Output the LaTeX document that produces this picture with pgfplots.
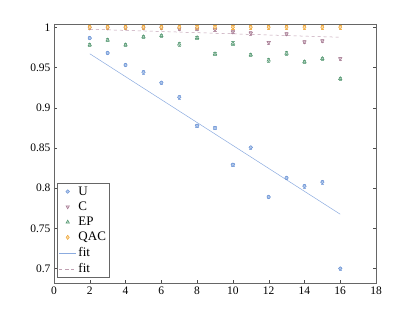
\documentclass[border=0pt]{standalone}
\usepackage{fontspec}
\setmainfont{Liberation Serif}
\usepackage{pgfplots}
\pgfplotsset{compat=1.18}
\definecolor{cU}{RGB}{110,150,215}
\definecolor{cC}{RGB}{165,120,145}
\definecolor{cE}{RGB}{80,150,110}
\definecolor{cQ}{RGB}{240,165,50}
\begin{document}
\begin{tikzpicture}
\begin{axis}[
  scale only axis, width=322pt, height=259pt,
  xmin=0, xmax=18, ymin=0.682, ymax=1.004,
  xtick={0,2,...,18}, ytick={0.7,0.75,0.8,0.85,0.9,0.95,1},
  yticklabels={0.7,0.75,0.8,0.85,0.9,0.95,1},
  /pgf/number format/assume math mode=true,
  tick label style={font=\fontsize{11.5}{13}\selectfont},
  axis line style={draw=black!60, line width=0.8pt},
  tick style={black!70},
  major tick length=3pt,
  legend style={font=\fontsize{13}{14}\selectfont, draw=black!60, inner sep=1.5pt, row sep=1.2pt, at={(0.01,0.02)}, anchor=south west},
  legend image post style={xshift=1pt},
  legend cell align=left,
  every axis plot/.append style={line width=0.5pt},
  error bars/y dir=both, error bars/y explicit,
  error bars/error bar style={line width=0.4pt},
  error bars/error mark options={rotate=90, mark size=1.7pt, line width=0.4pt},
]
\addplot[only marks, mark=*, mark size=1.8pt, color=cU, mark options={fill=cU!50, draw=cU}, error bars/error bar style={cU!70}] coordinates {
(2,0.9865) +- (0,0.002)
(3,0.968) +- (0,0.002)
(4,0.953) +- (0,0.002)
(5,0.944) +- (0,0.002)
(6,0.931) +- (0,0.002)
(7,0.913) +- (0,0.002)
(8,0.8775) +- (0,0.002)
(9,0.8746) +- (0,0.002)
(10,0.829) +- (0,0.002)
(11,0.8506) +- (0,0.002)
(12,0.789) +- (0,0.002)
(13,0.8127) +- (0,0.002)
(14,0.8024) +- (0,0.002)
(15,0.8074) +- (0,0.002)
(16,0.700) +- (0,0.002)
};
\addlegendentry{U}
\addplot[only marks, mark=triangle*, mark size=2pt, color=cC, mark options={rotate=180, fill=cC!40, draw=cC}, error bars/error bar style={cC!70}] coordinates {
(2,0.999) +- (0,0.002)
(3,0.999) +- (0,0.002)
(4,0.999) +- (0,0.002)
(5,0.999) +- (0,0.002)
(6,0.999) +- (0,0.002)
(7,0.998) +- (0,0.002)
(8,0.998) +- (0,0.002)
(9,0.997) +- (0,0.002)
(10,0.994) +- (0,0.002)
(11,0.9925) +- (0,0.002)
(12,0.981) +- (0,0.002)
(13,0.9917) +- (0,0.002)
(14,0.9817) +- (0,0.002)
(15,0.983) +- (0,0.002)
(16,0.961) +- (0,0.002)
};
\addlegendentry{C}
\addplot[only marks, mark=triangle*, mark size=2pt, color=cE, mark options={fill=cE!40, draw=cE}, error bars/error bar style={cE!70}] coordinates {
(2,0.978) +- (0,0.002)
(3,0.984) +- (0,0.002)
(4,0.978) +- (0,0.002)
(5,0.988) +- (0,0.002)
(6,0.9895) +- (0,0.002)
(7,0.979) +- (0,0.002)
(8,0.987) +- (0,0.002)
(9,0.967) +- (0,0.002)
(10,0.980) +- (0,0.002)
(11,0.9655) +- (0,0.002)
(12,0.959) +- (0,0.002)
(13,0.9676) +- (0,0.002)
(14,0.957) +- (0,0.002)
(15,0.961) +- (0,0.002)
(16,0.936) +- (0,0.002)
};
\addlegendentry{EP}
\addplot[only marks, mark=diamond*, mark size=2.1pt, color=cQ, mark options={fill=cQ!40, draw=cQ}, error bars/error bar style={cQ!80}] coordinates {
(2,1.000) +- (0,0.002)
(3,1.000) +- (0,0.002)
(4,1.000) +- (0,0.002)
(5,1.000) +- (0,0.002)
(6,1.000) +- (0,0.002)
(7,1.000) +- (0,0.002)
(8,1.000) +- (0,0.002)
(9,1.000) +- (0,0.002)
(10,1.000) +- (0,0.002)
(11,1.000) +- (0,0.002)
(12,1.000) +- (0,0.002)
(13,1.000) +- (0,0.002)
(14,1.000) +- (0,0.002)
(15,1.000) +- (0,0.002)
(16,1.000) +- (0,0.002)
};
\addlegendentry{QAC}
\addplot[no marks, color=cU!80, line width=0.5pt, error bars/y dir=none] coordinates {(2,0.967) (16,0.7675)};
\addlegendentry{fit}
\addplot[no marks, color=cC!70, dashed, line width=0.5pt, error bars/y dir=none] coordinates {(2,0.9975) (16,0.9875)};
\addlegendentry{fit}
\end{axis}
\path (current axis.south west) ++(-54pt,-36pt) coordinate (bbsw);
\path (current axis.north east) ++(39pt,24pt) coordinate (bbne);
\useasboundingbox (bbsw) rectangle (bbne);
\end{tikzpicture}
\end{document}
